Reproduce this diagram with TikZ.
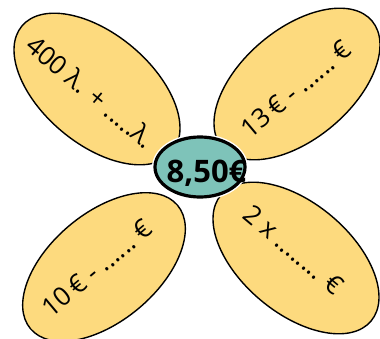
\documentclass[tikz,border=0pt]{standalone}
\usepackage{fontspec}
\setmainfont{Open Sans}
\usetikzlibrary{shapes.geometric}
\definecolor{petalyellow}{HTML}{FDDA7E}
\definecolor{centerteal}{HTML}{7EC3B9}
\begin{document}
\begin{tikzpicture}[x=1pt,y=1pt]
\tikzset{
  petal/.style={ellipse, draw=black, line width=1.4pt, fill=petalyellow, minimum width=196pt, minimum height=110pt, inner sep=0},
  lbl/.style={font=\fontsize{26}{26}\selectfont, inner sep=0},
  halo/.style={ellipse, draw=white, line width=6pt, minimum width=90pt, minimum height=60pt, inner sep=0},
  core/.style={ellipse, draw=black, line width=3.2pt, fill=centerteal, minimum width=90pt, minimum height=60pt, inner sep=0}
}
\useasboundingbox (0,0) rectangle (380,338);
\node[petal, rotate=-40] (tl) at (97,249) {};
\node[petal, rotate=40] (tr) at (297,254) {};
\node[petal, rotate=40, minimum width=192pt, minimum height=108pt] (bl) at (104,71) {};
\node[petal, rotate=-40] (br) at (296,80) {};
\node[lbl, rotate=-40] (tlt) at (91,246) {400 λ. + .....λ.};
\node[lbl, rotate=40] (trt) at (296,249) {13\,€ - ......\ €};
\node[lbl, rotate=40] (blt) at (97,70) {10\,€ - ......\ €};
\node[lbl, rotate=-40] (brt) at (294,88) {2 x ........ €};
\node[halo] (ch) at (200,171) {};
\node[core] (c) at (200,171) {};
\node[font=\fontsize{31}{31}\selectfont\bfseries, inner sep=0, anchor=base] (ct) at (206.5,156) {8,50€};
\end{tikzpicture}
\end{document}
